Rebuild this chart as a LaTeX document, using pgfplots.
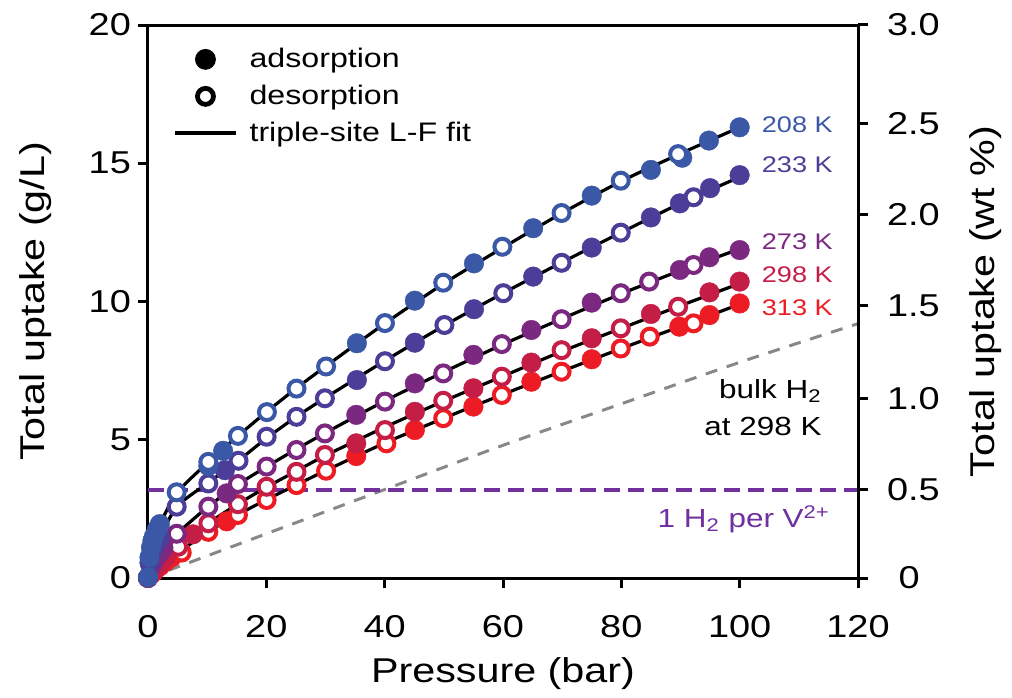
\documentclass[border=0pt]{standalone}
\usepackage{fontspec}
\setmainfont{Liberation Sans}[FakeStretch=1.2]
\usepackage{pgfplots}
\pgfplotsset{compat=1.18}
\definecolor{cA}{RGB}{58,88,166}
\definecolor{cB}{RGB}{76,62,152}
\definecolor{cC}{RGB}{123,40,128}
\definecolor{cD}{RGB}{196,30,70}
\definecolor{cE}{RGB}{237,28,36}
\definecolor{vline}{RGB}{112,48,160}
\definecolor{bulkc}{RGB}{136,136,136}
\pgfplotsset{
 ads/.style={only marks, mark=*, mark size=4.9pt, mark options={solid, fill=#1, draw=#1, line width=0.2pt}, forget plot},
 des/.style={only marks, mark=*, mark size=4pt, mark options={solid, fill=white, draw=#1, line width=2pt}, forget plot},
 fit/.style={black, line width=1.6pt, smooth, tension=0.5, forget plot, no marks},
 mylegline/.style={legend image code/.code={\draw[##1] (-0.229cm,0cm) -- (0.829cm,0cm);}},
}
\begin{document}
\begin{tikzpicture}[x=1pt,y=1pt]
\path[use as bounding box] (-74,-59.5) rectangle (432,289);
\begin{axis}[
 at={(0,0)}, anchor=south west, scale only axis, width=355pt, height=276.5pt,
 xmin=0, xmax=120, ymin=0, ymax=20,
 xtick={0,20,...,120}, ytick={0,5,...,20},
 tick align=outside, xtick pos=bottom, ytick pos=left,
 major tick length=5pt,
 axis line style={line width=1.5pt},
 tick style={line width=1.5pt, black},
 clip=false,
 /pgf/number format/assume math mode=true,
 tick label style={font=\fontsize{15.8}{19}\selectfont},
 xticklabel style={yshift=-10pt},
 xlabel={Pressure (bar)},
 ylabel={Total uptake (g/L)},
 label style={font=\fontsize{17.2}{21}\selectfont},
 xlabel style={at={(axis description cs:0.5,-0.172)}, anchor=center},
 ylabel style={at={(axis description cs:-0.159,0.5)}, anchor=center, rotate=0},
 legend style={at={(axis cs:4.22,19.35)}, anchor=north west, draw=none, fill=none,
   font=\fontsize{13.4}{16}\selectfont, inner sep=0pt, row sep=2.5pt,
   nodes={inner sep=1pt, text height=11pt, text depth=3pt},
   /tikz/every odd column/.append style={column sep=5pt}},
 legend cell align=left,
]
\addlegendimage{only marks, mark=*, mark size=5pt, black}
\addlegendimage{only marks, mark=*, mark size=4pt, mark options={fill=white, draw=black, line width=2.4pt}}
\addlegendimage{black, line width=2pt, mylegline}
\legend{adsorption, desorption, triple-site L-F fit}

% reference lines
\addplot[bulkc, line width=1.5pt, dash pattern=on 6pt off 5pt, smooth, forget plot] coordinates {(0,0) (20,1.6) (40,3.2) (60,4.8) (80,6.3) (100,7.8) (120,9.2)};
\addplot[vline, line width=2pt, dash pattern=on 8pt off 4pt, forget plot] coordinates {(0,3.2) (120,3.2)};

% 313 K
\addplot[fit] coordinates {(0,0) (1,0.22) (2,0.42) (5,0.9) (10,1.65) (15,2.27) (20,2.83) (25,3.36) (30,3.88) (40,4.88) (50,5.78) (60,6.64) (70,7.48) (80,8.3) (90,9.1) (100,9.9)};
\addplot[ads=cE] coordinates {(0,0) (0.5,0.12) (1,0.22) (2,0.42) (3,0.6) (4,0.75) (13.3,2.05) (35.2,4.41) (45.1,5.35) (55,6.2) (64.8,7.1) (75,7.91) (89.8,9.09) (94.9,9.51) (100,9.93)};
\addplot[des=cE] coordinates {(5.7,0.92) (10.2,1.67) (15.2,2.28) (20.05,2.82) (25.1,3.36) (30.1,3.88) (40.3,4.87) (49.9,5.78) (59.8,6.62) (69.9,7.46) (79.9,8.3) (84.8,8.73) (92.2,9.21)};

% 298 K
\addplot[fit] coordinates {(0,0) (1,0.28) (2,0.52) (5,1.12) (10,1.95) (15,2.65) (20,3.28) (25,3.86) (30,4.43) (40,5.45) (50,6.4) (60,7.3) (70,8.2) (80,9.03) (90,9.85) (100,10.65)};
\addplot[ads=cD] coordinates {(0,0) (1,0.25) (2,0.5) (3,0.75) (7.6,1.58) (35.2,4.87) (45.1,6.01) (55,6.86) (64.8,7.79) (75,8.67) (85,9.55) (94.9,10.33) (100,10.72)};
\addplot[des=cD] coordinates {(5.1,1.13) (10.2,1.98) (15.2,2.67) (20.05,3.3) (25.1,3.84) (29.9,4.45) (40.05,5.35) (49.9,6.41) (59.8,7.28) (69.9,8.24) (79.9,9.03) (89.6,9.81)};

% 273 K
\addplot[fit] coordinates {(0,0) (1,0.6) (2,0.95) (5,1.62) (10,2.55) (15,3.35) (20,4.02) (25,4.65) (30,5.25) (40,6.4) (50,7.45) (60,8.45) (70,9.38) (80,10.28) (90,11.12) (100,11.9)};
\addplot[ads=cC] coordinates {(0,0.01) (0.5,0.4) (1,0.6) (2,0.9) (2.6,1.1) (13.3,3.06) (35.2,5.9) (45.1,7.04) (55,8.07) (64.8,8.97) (75,9.96) (89.9,11.14) (94.9,11.6) (100,11.86)};
\addplot[des=cC] coordinates {(4.85,1.6) (10.2,2.58) (15.2,3.4) (20.05,4.03) (25.1,4.63) (29.9,5.23) (40.05,6.38) (49.9,7.4) (59.8,8.46) (69.9,9.36) (79.9,10.3) (84.7,10.72) (92.2,11.32)};

% 233 K
\addplot[fit] coordinates {(0,0) (0.5,0.8) (1,1.1) (2,1.5) (5,2.6) (10,3.42) (15,4.2) (20,5.05) (25,5.82) (30,6.52) (40,7.85) (50,9.12) (60,10.3) (70,11.42) (80,12.5) (90,13.55) (100,14.5)};
\addplot[ads=cB] coordinates {(0,0.02) (0.25,0.55) (0.5,0.8) (1,1.1) (1.5,1.3) (2,1.45) (13,3.9) (35.3,7.16) (45.1,8.51) (55.1,9.72) (65.1,10.9) (75,11.95) (85,13.04) (89.9,13.55) (95,14.1) (100,14.57)};
\addplot[des=cB] coordinates {(4.85,2.58) (10.2,3.42) (15.3,4.24) (20.05,5.11) (25.1,5.83) (29.9,6.5) (40.05,7.84) (50.1,9.15) (60.05,10.3) (69.9,11.4) (79.9,12.49) (92.2,13.77)};

% 208 K
\addplot[fit] coordinates {(0,0) (0.5,1.0) (1,1.45) (2,1.95) (5,3.1) (10,4.15) (15,5.1) (20,6.0) (25,6.85) (30,7.65) (40,9.2) (50,10.65) (60,11.95) (70,13.2) (80,14.35) (90,15.35) (100,16.3)};
\addplot[ads=cA] coordinates {(0,0.02) (0.25,0.75) (0.5,1.1) (0.75,1.35) (1.0,1.5) (1.5,1.75) (2.0,1.95) (10.2,4.05) (12.7,4.6) (35.3,8.49) (45.1,10.03) (55.1,11.38) (65.1,12.65) (75,13.83) (85,14.76) (90.3,15.2) (94.8,15.82) (100,16.3)};
\addplot[des=cA] coordinates {(4.85,3.1) (10.2,4.2) (15.2,5.14) (20.1,6.0) (25.1,6.85) (30.1,7.65) (40.05,9.22) (49.9,10.68) (59.9,11.98) (69.9,13.2) (79.9,14.37) (89.6,15.33)};

% labels
\node[anchor=east, inner sep=0pt, text=cA, font=\fontsize{11.3}{14}\selectfont] at (axis cs:115.8,16.38) {208 K};
\node[anchor=east, inner sep=0pt, text=cB, font=\fontsize{11.3}{14}\selectfont] at (axis cs:115.8,14.94) {233 K};
\node[anchor=east, inner sep=0pt, text=cC, font=\fontsize{11.3}{14}\selectfont] at (axis cs:115.8,12.15) {273 K};
\node[anchor=east, inner sep=0pt, text=cD, font=\fontsize{11.3}{14}\selectfont] at (axis cs:115.8,10.96) {298 K};
\node[anchor=east, inner sep=0pt, text=cE, font=\fontsize{11.3}{14}\selectfont] at (axis cs:115.8,9.76) {313 K};
\node[anchor=base east, inner sep=0pt, font=\fontsize{13.1}{16}\selectfont] at (axis cs:113.9,6.51) {bulk H\textsubscript{2}};
\node[anchor=base east, inner sep=0pt, font=\fontsize{13.1}{16}\selectfont] at (axis cs:113.9,5.17) {at 298 K};
\node[anchor=base east, inner sep=0pt, text=vline, font=\fontsize{13.1}{16}\selectfont] at (axis cs:115.3,1.84) {1 H\textsubscript{2} per V\textsuperscript{2+}};
\end{axis}
\begin{axis}[
 at={(0,0)}, anchor=south west, scale only axis, width=355pt, height=276.5pt,
 xmin=0, xmax=120, ymin=0, ymax=20,
 axis x line=none, axis y line*=right,
 tick align=outside, major tick length=5pt,
 axis line style={line width=1.5pt, -},
 tick style={line width=1.5pt, black},
 ytick={0,3.2,6.5,9.85,13.15,16.45,20},
 yticklabels={\makebox[1.39em][c]{0},0.5,1.0,1.5,2.0,2.5,3.0},
 tick label style={font=\fontsize{15.8}{19}\selectfont},
 yticklabel style={xshift=6pt},
 ylabel={Total uptake (wt \%)},
 label style={font=\fontsize{17.2}{21}\selectfont},
 ylabel style={at={(axis description cs:1.179,0.5)}, anchor=center, rotate=0},
]
\end{axis}
\end{tikzpicture}
\end{document}
